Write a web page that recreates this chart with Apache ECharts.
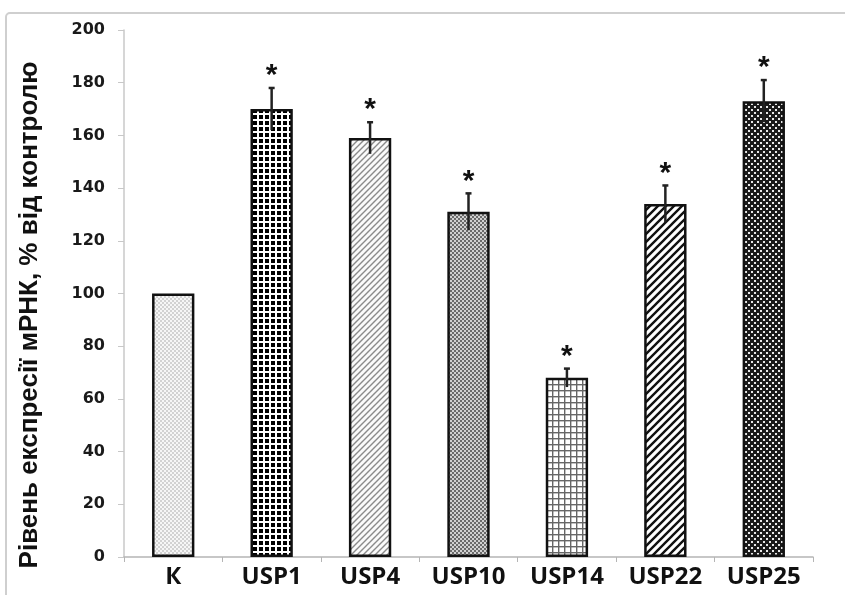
<!DOCTYPE html>
<html>
<head>
<meta charset="utf-8">
<script src="https://cdn.jsdelivr.net/npm/echarts@6/dist/echarts.min.js"></script>
<style>html,body{margin:0;padding:0;background:#fff}#c{width:845px;height:595px}</style>
</head>
<body>
<div id="c"></div>
<script>
const categories = ['К', 'USP1', 'USP4', 'USP10', 'USP14', 'USP22', 'USP25'];
const values = [100, 170, 159, 131, 68, 134, 173];
const errors = [0, 8, 6, 7, 3.5, 7, 8];
const significant = [false, true, true, true, true, true, true];
const yTicks = [0, 20, 40, 60, 80, 100, 120, 140, 160, 180, 200];

function tile(size, draw) {
  const c = document.createElement('canvas');
  c.width = size; c.height = size;
  const g = c.getContext('2d');
  draw(g, size);
  return { image: c, repeat: 'repeat' };
}
const patterns = [
  tile(4, (g, s) => { g.fillStyle = '#f6f6f6'; g.fillRect(0,0,s,s); g.fillStyle = '#d2d2d2'; g.fillRect(0,0,2,2); g.fillRect(2,2,2,2); }),
  tile(6, (g, s) => { g.fillStyle = '#fff'; g.fillRect(0,0,s,s); g.fillStyle = '#000'; g.fillRect(1,1,4,4); }),
  tile(6, (g, s) => { g.fillStyle = '#fafafa'; g.fillRect(0,0,s,s); g.strokeStyle = '#8a8a8a'; g.lineWidth = 1.4; g.beginPath(); g.moveTo(-1,s+1); g.lineTo(s+1,-1); g.moveTo(-1,1); g.lineTo(1,-1); g.moveTo(s-1,s+1); g.lineTo(s+1,s-1); g.stroke(); }),
  tile(4, (g, s) => { g.fillStyle = '#d0d0d0'; g.fillRect(0,0,s,s); g.fillStyle = '#6a6a6a'; g.fillRect(0,0,2,2); g.fillRect(2,2,2,2); }),
  tile(6, (g, s) => { g.fillStyle = '#fff'; g.fillRect(0,0,s,s); g.fillStyle = '#666'; g.fillRect(0,0,s,1.4); g.fillRect(0,0,1.4,s); }),
  tile(8, (g, s) => { g.fillStyle = '#fff'; g.fillRect(0,0,s,s); g.strokeStyle = '#111'; g.lineWidth = 2.4; g.beginPath(); g.moveTo(-2,s+2); g.lineTo(s+2,-2); g.moveTo(-2,2); g.lineTo(2,-2); g.moveTo(s-2,s+2); g.lineTo(s+2,s-2); g.stroke(); }),
  tile(6, (g, s) => { g.fillStyle = '#1a1a1a'; g.fillRect(0,0,s,s); g.fillStyle = '#e8e8e8'; g.fillRect(1,1,2,2); g.fillRect(4,4,2,2); })
];

const barData = values.map((v, i) => ({ value: v, itemStyle: { color: patterns[i] } }));
const errData = values.map((v, i) => [i, v, errors[i], significant[i] ? 1 : 0]);

const chart = echarts.init(document.getElementById('c'), null, { renderer: 'canvas' });
chart.setOption({
  animation: false,
  backgroundColor: '#fff',
  grid: { left: 124, right: 32, top: 30, bottom: 38, containLabel: false },
  graphic: [
    { type: 'rect', shape: { x: 6, y: 13, width: 900, height: 700, r: 4 }, style: { fill: 'none', stroke: '#cfcfcf', lineWidth: 2 }, z: -1 },
    { type: 'text', x: 30, y: 315, rotation: Math.PI / 2,
      style: { text: 'Рівень експресії мРНК, % від контролю', font: 'bold 26px "Liberation Sans", Arial, sans-serif', fill: '#111', align: 'center', verticalAlign: 'middle' } }
  ],
  xAxis: {
    type: 'category', data: categories,
    axisLine: { lineStyle: { color: '#b5b5b5', width: 1.5 } },
    axisTick: { show: true, alignWithLabel: false, length: 5, lineStyle: { color: '#b5b5b5' } },
    axisLabel: { color: '#111', fontSize: 24, fontWeight: 'bold', fontFamily: '"Open Sans", sans-serif', margin: 8 }
  },
  yAxis: {
    type: 'value', min: 0, max: 200, interval: 20,
    axisLine: { show: true, lineStyle: { color: '#c8c8c8', width: 1.5 } },
    axisTick: { show: true, length: 6, lineStyle: { color: '#c8c8c8' } },
    splitLine: { show: false },
    axisLabel: { color: '#1a1a1a', fontSize: 16, fontWeight: 'bold', fontFamily: '"DejaVu Sans", sans-serif', margin: 19,
      customValues: yTicks }
  },
  series: [
    { type: 'bar', data: barData, barWidth: '43%',
      itemStyle: { borderColor: '#111', borderWidth: 2.5 } },
    { type: 'custom', data: errData, z: 5,
      renderItem: function (params, api) {
        const i = api.value(0), v = api.value(1), e = api.value(2), sig = api.value(3);
        const children = [];
        if (e > 0) {
          const top = api.coord([i, v + e]);
          const bot = api.coord([i, v - e]);
          children.push({ type: 'line', shape: { x1: top[0], y1: top[1], x2: bot[0], y2: bot[1] }, style: { stroke: '#222', lineWidth: 2.5 } });
          children.push({ type: 'line', shape: { x1: top[0] - 3, y1: top[1], x2: top[0] + 3, y2: top[1] }, style: { stroke: '#222', lineWidth: 2.5 } });
        }
        if (sig) {
          const p = api.coord([i, v + e]);
          children.push({ type: 'text', x: p[0], y: p[1] + 3, style: { text: '*', font: 'bold 30px "Liberation Sans", Arial, sans-serif', fill: '#111', align: 'center', verticalAlign: 'bottom' } });
        }
        return { type: 'group', children: children };
      }
    }
  ]
});
</script>
</body>
</html>
